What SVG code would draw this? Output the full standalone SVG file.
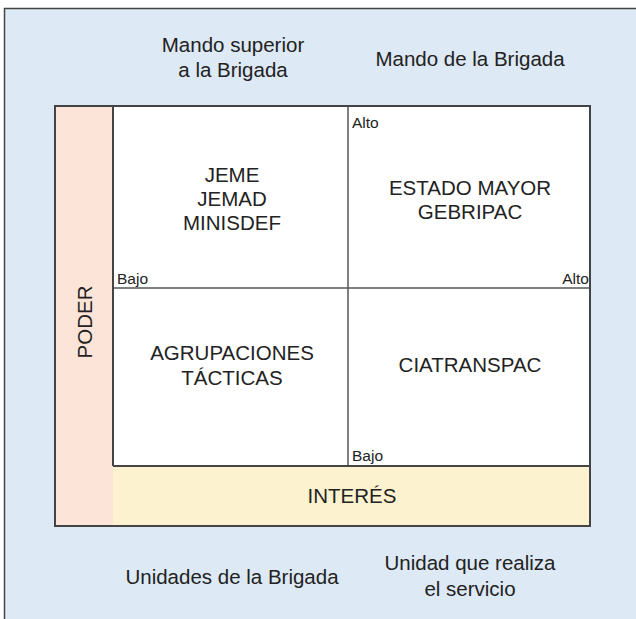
<svg xmlns="http://www.w3.org/2000/svg" width="636" height="619" viewBox="0 0 636 619">
<style>
text{font-family:"Liberation Sans",Arial,sans-serif;fill:#222;}
.big{font-size:20.5px;text-anchor:middle;}
.small{font-size:15.5px;}
.line{stroke:#555;stroke-width:1.5;fill:none;}
</style>
<rect x="0" y="0" width="636" height="619" fill="#ffffff"/>
<rect x="4.5" y="8.5" width="640" height="620" fill="#dde9f4" stroke="#444" stroke-width="1.5"/>
<g id="labels-top">
<text class="big" x="233" y="52">Mando superior</text>
<text class="big" x="233" y="77">a la Brigada</text>
<text class="big" x="470" y="66">Mando de la Brigada</text>
</g>
<g id="poder">
<rect x="55" y="106" width="58" height="420" fill="#fde4d8"/>
<text class="big" transform="translate(92,322) rotate(-90)">PODER</text>
</g>
<g id="interes">
<rect x="113" y="466" width="477" height="60" fill="#fdf2cf"/>
<text class="big" x="352" y="503">INTERÉS</text>
</g>
<g id="grid">
<rect x="113" y="106" width="477" height="360" fill="#ffffff"/>
</g>
<g id="connectors">
<line class="line" x1="348" y1="106" x2="348" y2="466"/>
<line class="line" x1="113" y1="288" x2="590" y2="288"/>
<line x1="113" y1="106" x2="113" y2="466" stroke="#444" stroke-width="2"/>
<line x1="113" y1="466" x2="590" y2="466" stroke="#444" stroke-width="2"/>
<rect x="55" y="106" width="535" height="420" fill="none" stroke="#444" stroke-width="2"/>
</g>
<g id="q1">
<text class="big" x="232" y="182">JEME</text>
<text class="big" x="232" y="206">JEMAD</text>
<text class="big" x="232" y="230">MINISDEF</text>
</g>
<g id="q2">
<text class="big" x="470" y="195">ESTADO MAYOR</text>
<text class="big" x="470" y="219">GEBRIPAC</text>
</g>
<g id="q3">
<text class="big" x="232" y="360">AGRUPACIONES</text>
<text class="big" x="232" y="385">TÁCTICAS</text>
</g>
<g id="q4">
<text class="big" x="470" y="372">CIATRANSPAC</text>
</g>
<g id="axis-labels">
<text class="small" x="352" y="128">Alto</text>
<text class="small" x="589" y="284" text-anchor="end">Alto</text>
<text class="small" x="117" y="284">Bajo</text>
<text class="small" x="352" y="461">Bajo</text>
</g>
<g id="labels-bottom">
<text class="big" x="232" y="584">Unidades de la Brigada</text>
<text class="big" x="470" y="570">Unidad que realiza</text>
<text class="big" x="470" y="596">el servicio</text>
</g>
</svg>
